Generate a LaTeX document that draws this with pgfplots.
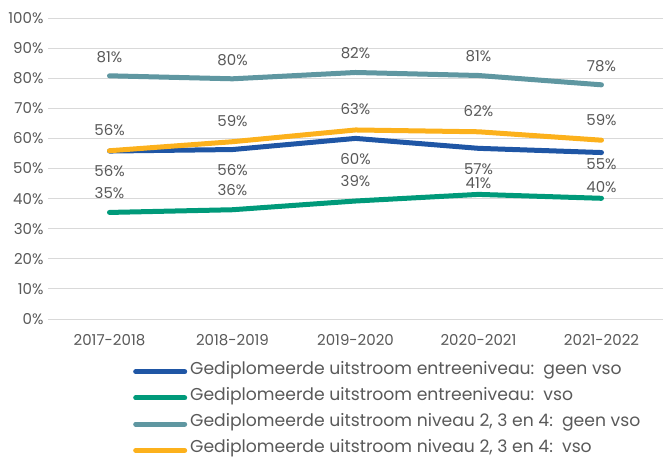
\documentclass[border=0pt]{standalone}
\usepackage{pgfplots}
\pgfplotsset{compat=1.18}
\usepackage{fontspec}
\setmainfont{Poppins}
\definecolor{cblue}{HTML}{1F56A5}
\definecolor{cgreen}{HTML}{009A7A}
\definecolor{cgray}{HTML}{5F97A1}
\definecolor{cyellow}{HTML}{FCB11C}
\definecolor{ctext}{HTML}{595959}
\definecolor{cgrid}{HTML}{D9D9D9}
\begin{document}
\begin{tikzpicture}[x=1pt,y=1pt]
\path[use as bounding box] (0,0) rectangle (670,459);
\begin{axis}[
  at={(48pt,140pt)}, anchor=south west,
  scale only axis, width=615pt, height=301pt,
  xmin=-0.5, xmax=4.5, ymin=0, ymax=100,
  clip=false,
  /pgf/number format/assume math mode=true,
  ytick={0,10,...,100},
  yticklabel={\pgfmathprintnumber{\tick}\%},
  xtick={0,1,2,3,4},
  xticklabels={2017-2018,2018-2019,2019-2020,2020-2021,2021-2022},
  axis line style={draw=none},
  major tick length=0pt,
  ymajorgrids, grid style={cgrid, line width=1pt},
  ticklabel style={font=\fontsize{15}{17}\selectfont, text=ctext},
  yticklabel style={xshift=-1pt},
  xticklabel style={yshift=-12pt},
  point meta=explicit symbolic,
  nodes near coords,
  nodes near coords style={font=\fontsize{15}{17}\selectfont, text=ctext, anchor=center},
  every axis plot/.append style={line width=5pt, line cap=round, line join=round, mark=none},
  legend cell align=left,
  legend style={at={(0.1382,-0.1497)}, anchor=north west, draw=none, fill=none,
    inner sep=0pt, font=\fontsize{17.2}{19}\selectfont, text=ctext,
    row sep=13.2pt,
    nodes={inner sep=0pt, text height=10pt, text depth=3pt},
    legend image code/.code={\draw[#1, line width=5pt, line cap=round] (2.5pt,-1pt) -- (51.5pt,-1pt);}},
]
\addplot[cblue, every node near coord/.append style={yshift=-20.5pt}] coordinates {
 (0,55.8) [56\%] (1,56.3) [56\%] (2,60.0) [60\%] (3,56.7) [57\%] (4,55.3) [\relax]};
\addlegendentry{\hspace{3pt}Gediplomeerde uitstroom entreeniveau:\ \ geen vso}
\addplot[cgreen, every node near coord/.append style={yshift=19.5pt}] coordinates {
 (0,35.4) [35\%] (1,36.3) [36\%] (2,39.2) [39\%] (3,41.4) [\relax] (4,40.1) [\relax]};
\addlegendentry{\hspace{3pt}Gediplomeerde uitstroom entreeniveau:\ \ vso}
\addplot[cgray, every node near coord/.append style={yshift=19pt}] coordinates {
 (0,80.8) [81\%] (1,79.8) [80\%] (2,81.9) [82\%] (3,80.9) [81\%] (4,77.8) [78\%]};
\addlegendentry{\hspace{3pt}Gediplomeerde uitstroom niveau 2, 3 en 4:\ \ geen vso}
\addplot[cyellow, every node near coord/.append style={yshift=20.5pt}] coordinates {
 (0,55.9) [56\%] (1,58.9) [59\%] (2,62.8) [63\%] (3,62.2) [62\%] (4,59.4) [59\%]};
\addlegendentry{\hspace{3pt}Gediplomeerde uitstroom niveau 2, 3 en 4:\ \ vso}
% labels that sit closer to their lines
\addplot[draw=none, forget plot, every node near coord/.append style={yshift=-11.3pt}] coordinates {
 (4,55.3) [55\%]};
\addplot[draw=none, forget plot, every node near coord/.append style={yshift=11pt}] coordinates {
 (3,41.4) [41\%] (4,40.1) [40\%]};
\end{axis}
\end{tikzpicture}
\end{document}
